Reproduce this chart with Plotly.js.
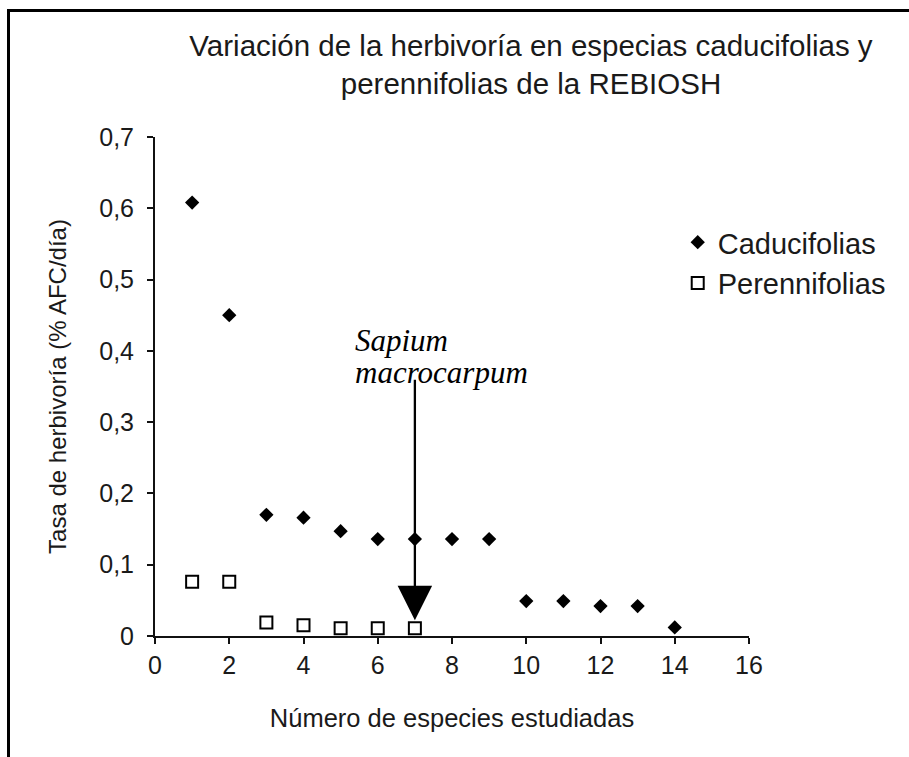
<!DOCTYPE html>
<html><head><meta charset="utf-8">
<script src="https://cdn.plot.ly/plotly-3.0.1.min.js"></script>
<style>
html,body{margin:0;padding:0;background:#fff;}
#wrap{position:relative;width:909px;height:757px;overflow:hidden;background:#fff;}
#chart{position:absolute;left:0;top:0;width:909px;height:757px;}
#frame{position:absolute;left:7px;top:9px;width:930px;height:780px;border-top:3px solid #000;border-left:3px solid #000;pointer-events:none;}
</style></head><body>
<div id="wrap"><div id="chart"></div><div id="frame"></div></div>
<script>
// Data
const especiesCaducifolias = [1, 2, 3, 4, 5, 6, 7, 8, 9, 10, 11, 12, 13, 14];
const tasaCaducifolias = [0.608, 0.45, 0.17, 0.166, 0.147, 0.136, 0.136, 0.136, 0.136, 0.049, 0.049, 0.042, 0.042, 0.012];
const especiesPerennifolias = [1, 2, 3, 4, 5, 6, 7];
const tasaPerennifolias = [0.076, 0.076, 0.019, 0.015, 0.011, 0.011, 0.011];
const xTicks = [0, 2, 4, 6, 8, 10, 12, 14, 16];
const yTicks = [0, 0.1, 0.2, 0.3, 0.4, 0.5, 0.6, 0.7];
const sapiumIndex = 6; // Sapium macrocarpum (perennifolia)

const FONT = 'Liberation Sans, Arial, sans-serif';
const SERIF = 'Liberation Serif, Times New Roman, serif';
const TXT = '#1a1a1a';

const traces = [
  {
    type: 'scatter', mode: 'markers', name: 'Caducifolias',
    x: especiesCaducifolias, y: tasaCaducifolias,
    marker: {symbol: 'diamond', size: 11, color: '#000', line: {width: 0}},
    legendgroup: 'a'
  },
  {
    type: 'scatter', mode: 'markers', name: 'Perennifolias',
    x: especiesPerennifolias, y: tasaPerennifolias,
    marker: {symbol: 'square-open', size: 12, color: '#000', line: {width: 2, color: '#000'}},
    legendgroup: 'b'
  }
];

const layout = {
  width: 909, height: 757,
  margin: {l: 155, r: 160, t: 137, b: 121},
  paper_bgcolor: 'rgba(0,0,0,0)', plot_bgcolor: 'rgba(0,0,0,0)',
  separators: ',.',
  font: {family: FONT, color: TXT, size: 25},
  title: {
    text: 'Variación de la herbivoría en especias caducifolias y<br>perennifolias de la REBIOSH',
    font: {family: FONT, size: 29.5, color: TXT},
    x: 0.633, xref: 'paper', xanchor: 'center',
    y: 0.926, yref: 'container', yanchor: 'top'
  },
  xaxis: {
    range: [0, 16], tickvals: xTicks, ticktext: xTicks.map(String),
    showgrid: false, zeroline: false, showline: true, linecolor: '#111', linewidth: 2,
    ticks: 'outside', ticklen: 6, tickwidth: 2, tickcolor: '#111',
    tickfont: {size: 25, color: TXT, family: FONT},
    title: {text: 'Número de especies estudiadas', font: {size: 25.5, color: TXT, family: FONT}, standoff: 31},
    automargin: false, fixedrange: true
  },
  yaxis: {
    range: [0, 0.7], tickvals: yTicks,
    showgrid: false, zeroline: false, showline: true, linecolor: '#111', linewidth: 2,
    ticks: 'outside', ticklen: 6, tickwidth: 2, tickcolor: '#111',
    tickfont: {size: 25, color: TXT, family: FONT},
    ticklabelstandoff: 8,
    title: {text: 'Tasa de herbivoría (% AFC/día)', font: {size: 24, color: TXT, family: FONT}, standoff: 26},
    automargin: false, fixedrange: true
  },
  showlegend: true,
  legend: {
    x: 0.88, xanchor: 'left', y: 0.84, yanchor: 'top',
    font: {size: 29, color: TXT, family: FONT},
    bgcolor: 'rgba(0,0,0,0)', borderwidth: 0,
    traceorder: 'grouped', tracegroupgap: 0, itemwidth: 30
  },
  annotations: [
    {
      x: especiesPerennifolias[sapiumIndex], y: tasaPerennifolias[sapiumIndex],
      xref: 'x', yref: 'y', text: '', showarrow: true,
      ax: 0, ay: -250, arrowhead: 2, arrowsize: 3, arrowwidth: 2.3, arrowcolor: '#000', standoff: 8
    },
    {
      x: especiesPerennifolias[sapiumIndex], y: tasaPerennifolias[sapiumIndex],
      xref: 'x', yref: 'y', text: 'Sapium', showarrow: false,
      xanchor: 'left', yanchor: 'middle', xshift: -62, yshift: 288,
      font: {family: SERIF, size: 31, color: '#000', style: 'italic'}
    },
    {
      x: especiesPerennifolias[sapiumIndex], y: tasaPerennifolias[sapiumIndex],
      xref: 'x', yref: 'y', text: 'macrocarpum', showarrow: false,
      xanchor: 'left', yanchor: 'middle', xshift: -62, yshift: 256,
      font: {family: SERIF, size: 31, color: '#000', style: 'italic'}
    }
  ]
};

Plotly.newPlot('chart', traces, layout, {displayModeBar: false, staticPlot: true});
</script>
</body></html>
